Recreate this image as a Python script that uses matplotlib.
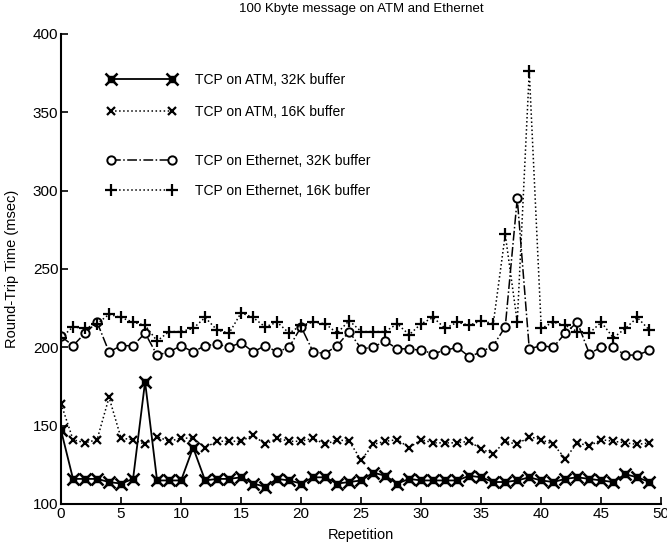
import matplotlib
matplotlib.use("Agg")
import matplotlib.pyplot as plt
from matplotlib.legend_handler import HandlerTuple

plt.rcParams['font.family'] = ['Liberation Sans', 'DejaVu Sans']

repetition = list(range(50))

atm_32k = [147, 116, 116, 116, 114, 113, 116, 178, 115, 115,
           115, 136, 115, 116, 116, 117, 113, 111, 116, 115,
           113, 117, 117, 113, 114, 115, 120, 118, 113, 116,
           115, 115, 115, 115, 118, 117, 114, 114, 115, 117,
           115, 114, 116, 117, 116, 115, 114, 119, 117, 114]

atm_16k = [164, 141, 139, 141, 168, 142, 141, 138, 143, 140,
           142, 142, 136, 140, 140, 140, 144, 138, 142, 140,
           140, 142, 138, 141, 140, 128, 138, 140, 141, 136,
           141, 139, 139, 139, 140, 135, 132, 140, 138, 143,
           141, 138, 129, 139, 137, 141, 140, 139, 138, 139]

eth_32k = [207, 201, 209, 216, 197, 201, 201, 209, 195, 197,
           201, 197, 201, 202, 200, 203, 197, 201, 197, 200,
           213, 197, 196, 201, 210, 199, 200, 204, 199, 199,
           198, 196, 198, 200, 194, 197, 201, 213, 295, 199,
           201, 200, 209, 216, 196, 200, 200, 195, 195, 198]

eth_16k = [206, 213, 212, 215, 221, 219, 216, 214, 204, 210,
           210, 212, 219, 211, 209, 222, 219, 213, 216, 209,
           214, 216, 215, 209, 217, 210, 210, 210, 215, 208,
           215, 219, 212, 216, 214, 217, 215, 272, 216, 376,
           212, 216, 214, 210, 209, 216, 206, 212, 219, 211]

labels = ["TCP on ATM, 32K buffer", "TCP on ATM, 16K buffer",
          "TCP on Ethernet, 32K buffer", "TCP on Ethernet, 16K buffer"]
title = "100 Kbyte message on ATM and Ethernet"
xlabel = "Repetition"
ylabel = "Round-Trip Time (msec)"
xticks = list(range(0, 51, 5))
yticks = list(range(100, 401, 50))

fig = plt.figure(figsize=(6.67, 5.46), dpi=100)
ax = fig.add_axes([0.0915, 0.077, 0.9, 0.861])

k = 'black'
l1, = ax.plot(repetition, atm_32k, '-', color=k, lw=1.3, marker='s', ms=5,
              mfc=k, mec=k)
l1b, = ax.plot(repetition, atm_32k, ' ', marker='x', ms=8, mew=1.8, color=k)
l2, = ax.plot(repetition, atm_16k, ':', color=k, lw=1.1, marker='x', ms=6,
              mew=1.6)
l3, = ax.plot(repetition, eth_32k, '-.', color=k, lw=1.1, marker='o', ms=6,
              mfc='white', mec=k, mew=1.4)
l4, = ax.plot(repetition, eth_16k, ':', color=k, lw=1.1, marker='+', ms=8,
              mew=1.6)

ax.set_xlim(0, 50)
ax.set_ylim(100, 400)
ax.set_xticks(xticks)
ax.set_yticks(yticks)
ax.tick_params(direction='in', length=5, width=1.2, labelsize=11, pad=2)
for s in ['top', 'right']:
    ax.spines[s].set_visible(False)
for s in ['left', 'bottom']:
    ax.spines[s].set_linewidth(1.5)

ax.set_title(title, fontsize=9.5, pad=16)
ax.set_xlabel(xlabel, fontsize=10.5, labelpad=5)
ax.set_ylabel(ylabel, fontsize=10.5, labelpad=10)

leg1 = ax.legend([(l1, l1b), l2], labels[:2], numpoints=2,
                 handler_map={tuple: HandlerTuple(ndivide=1)},
                 loc='upper left', bbox_to_anchor=(0.055, 0.943),
                 frameon=False, fontsize=10, handlelength=5.0,
                 handletextpad=1.4, labelspacing=1.3)
ax.add_artist(leg1)
leg2 = ax.legend([l3, l4], labels[2:], numpoints=2,
                 loc='upper left', bbox_to_anchor=(0.055, 0.772),
                 frameon=False, fontsize=10, handlelength=5.0,
                 handletextpad=1.4, labelspacing=1.2)

fig.savefig("out.png", dpi=100)
